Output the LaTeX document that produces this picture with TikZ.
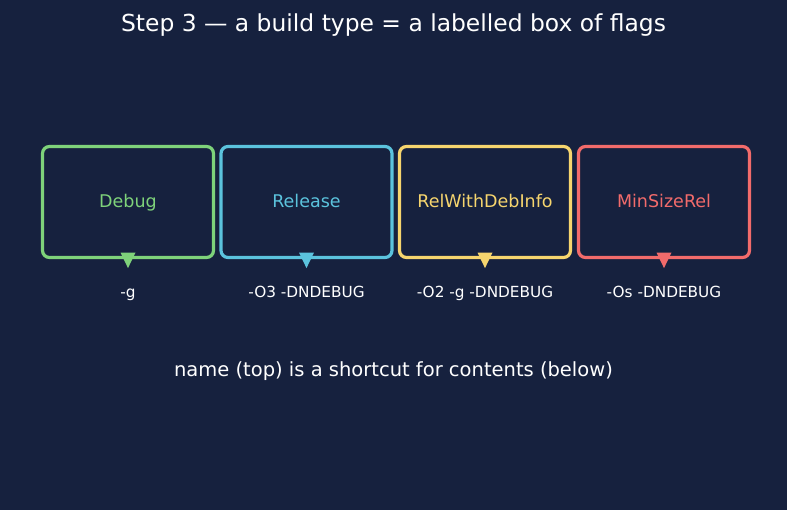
\documentclass[tikz,border=0pt]{standalone}
\usepackage{fontspec}
\setmainfont{DejaVu Sans}
\definecolor{bg}{HTML}{16213E}
\definecolor{cgreen}{HTML}{7ED27A}
\definecolor{ccyan}{HTML}{5BC3DD}
\definecolor{cyellow}{HTML}{F6D56E}
\definecolor{cred}{HTML}{F26B6B}
\tikzset{
  x=1pt, y=1pt,
  typebox/.style={draw=#1, line width=3.2pt, rounded corners=7pt, fill=bg,
    minimum width=171pt, minimum height=111pt, inner sep=0pt,
    text height=12.7pt, text depth=2.5pt,
    text=#1, font=\fontsize{17.5}{20}\selectfont},
  flaglabel/.style={text=white, font=\fontsize{15.3}{18}\selectfont, inner sep=0pt, anchor=base},
  marker/.style={fill=#1, draw=none},
}
\begin{document}
\begin{tikzpicture}
\fill[bg] (0,0) rectangle (787,-510);
\useasboundingbox (0,0) rectangle (787,-510);
\node[text=white, font=\fontsize{23.4}{27}\selectfont, anchor=base, inner sep=0pt] (title) at (393.5,-32) {Step 3 — a build type = a labelled box of flags};

\node[typebox=cgreen] (b1) at (128,-202) {Debug};
\node[typebox=ccyan] (b2) at (306.5,-202) {Release};
\node[typebox=cyellow] (b3) at (485,-202) {RelWithDebInfo};
\node[typebox=cred] (b4) at (664,-202) {MinSizeRel};

\node[flaglabel] (l1) at (128,-297.5) {-g};
\node[flaglabel] (l2) at (306.5,-297.5) {-O3 -DNDEBUG};
\node[flaglabel] (l3) at (485,-297.5) {-O2 -g -DNDEBUG};
\node[flaglabel] (l4) at (664,-297.5) {-Os -DNDEBUG};

\foreach \i/\c in {1/cgreen,2/ccyan,3/cyellow,4/cred}{
  \coordinate (tl\i) at ([xshift=-7.5pt,yshift=6.5pt]b\i.south);
  \coordinate (tr\i) at ([xshift=7.5pt,yshift=6.5pt]b\i.south);
  \coordinate (tt\i) at ([yshift=-9pt]b\i.south);
  \fill[marker=\c] (tl\i) -- (tr\i) -- (tt\i) -- cycle;
}

\node[text=white, font=\fontsize{19.5}{23}\selectfont, anchor=base, inner sep=0pt] (note) at (393.5,-377) {name (top) is a shortcut for contents (below)};
\end{tikzpicture}
\end{document}
